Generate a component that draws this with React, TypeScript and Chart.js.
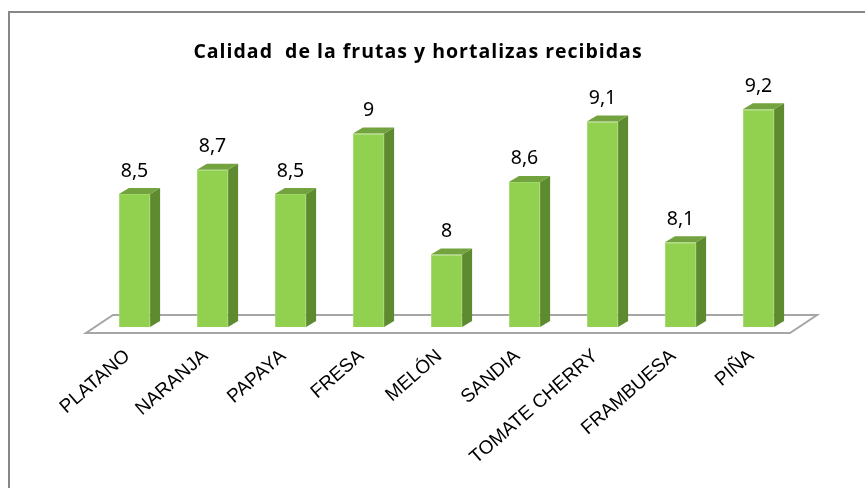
import React, { useEffect, useRef } from "react";
import { Chart, registerables } from "chart.js";

Chart.register(...registerables);

const TITLE = "Calidad  de la frutas y hortalizas recibidas";
const categories = [
  "PLATANO",
  "NARANJA",
  "PAPAYA",
  "FRESA",
  "MELÓN",
  "SANDIA",
  "TOMATE CHERRY",
  "FRAMBUESA",
  "PIÑA",
];
const values = [8.5, 8.7, 8.5, 9, 8, 8.6, 9.1, 8.1, 9.2];
const yMin = 7.4;
const yMax = 9.6;

const W = 865;
const H = 488;
const DX = 10;
const DY = 6;
const FRONT = "#92d050";
const SIDE = "#5f8b30";
const TOP = "#72a33e";

const fmt = (v: number) => String(v).replace(".", ",");

const framePlugin = {
  id: "frame",
  beforeDraw(chart: any) {
    const ctx = chart.ctx;
    ctx.save();
    ctx.fillStyle = "#ffffff";
    ctx.fillRect(0, 0, W, H);
    ctx.strokeStyle = "#878787";
    ctx.lineWidth = 2;
    ctx.beginPath();
    ctx.moveTo(9, H);
    ctx.lineTo(9, 12);
    ctx.lineTo(W, 12);
    ctx.stroke();
    ctx.restore();
  },
};

const titlePlugin = {
  id: "customTitle",
  afterDraw(chart: any) {
    const ctx = chart.ctx;
    ctx.save();
    ctx.fillStyle = "#000000";
    ctx.font = "bold 19.5px 'Open Sans'";
    try {
      (ctx as any).letterSpacing = "1px";
    } catch (e) {}
    ctx.textAlign = "center";
    ctx.textBaseline = "middle";
    ctx.fillText(TITLE, 418, 52);
    ctx.restore();
  },
};

const floorPlugin = {
  id: "floor",
  beforeDatasetsDraw(chart: any) {
    const { left, right, bottom } = chart.chartArea;
    const ctx = chart.ctx;
    ctx.save();
    ctx.beginPath();
    ctx.moveTo(left - 9.5, bottom + 6);
    ctx.lineTo(right - 7.5, bottom + 6);
    ctx.lineTo(right + 19.5, bottom - 12);
    ctx.lineTo(left + 17.5, bottom - 12);
    ctx.closePath();
    ctx.fillStyle = "#ffffff";
    ctx.fill();
    ctx.strokeStyle = "#a6a6a6";
    ctx.lineWidth = 2;
    ctx.stroke();
    ctx.restore();
  },
};

const bar3dPlugin = {
  id: "bar3d",
  afterDatasetsDraw(chart: any) {
    const ctx = chart.ctx;
    const meta = chart.getDatasetMeta(0);
    const bottom = chart.chartArea.bottom;
    ctx.save();
    meta.data.forEach((bar: any, i: number) => {
      const { x, y, base, width } = bar.getProps(["x", "y", "base", "width"], true);
      const b = Math.min(base, bottom);
      const l = x - width / 2;
      const r = x + width / 2;
      // side face
      ctx.beginPath();
      ctx.moveTo(r, y);
      ctx.lineTo(r + DX, y - DY);
      ctx.lineTo(r + DX, b - DY);
      ctx.lineTo(r, b);
      ctx.closePath();
      ctx.fillStyle = SIDE;
      ctx.fill();
      // top face
      ctx.beginPath();
      ctx.moveTo(l, y);
      ctx.lineTo(l + DX, y - DY);
      ctx.lineTo(r + DX, y - DY);
      ctx.lineTo(r, y);
      ctx.closePath();
      ctx.fillStyle = TOP;
      ctx.fill();
      // value label
      ctx.fillStyle = "#000000";
      ctx.font = "19.5px 'Noto Sans'";
      ctx.textAlign = "center";
      ctx.textBaseline = "middle";
      ctx.fillText(fmt(values[i]), x, y - 23);
    });
    ctx.restore();
  },
};

export default function App() {
  const ref = useRef<HTMLCanvasElement | null>(null);

  useEffect(() => {
    if (!ref.current) return;
    const chart = new Chart(ref.current, {
      type: "bar",
      data: {
        labels: categories,
        datasets: [
          {
            data: values,
            base: yMin,
            backgroundColor: FRONT,
            borderColor: "#a2da68",
            borderWidth: 1,
            categoryPercentage: 1,
            barPercentage: 0.4,
          },
        ],
      },
      options: {
        responsive: false,
        animation: false,
        layout: { padding: { left: 95.5, right: 67.5, top: 61, bottom: 0 } },
        plugins: {
          legend: { display: false },
          title: { display: false },
          tooltip: { enabled: false },
        },
        scales: {
          y: { display: false, min: yMin, max: yMax },
          x: {
            grid: { display: false },
            border: { display: false },
            ticks: {
              minRotation: 41,
              maxRotation: 41,
              padding: 10,
              labelOffset: -7,
              color: "#000000",
              font: { family: "'Liberation Sans'", size: 19 },
            },
            afterFit: (s: any) => {
              s.height = H - 327;
            },
          },
        },
      },
      plugins: [framePlugin, floorPlugin, bar3dPlugin, titlePlugin],
    });
    return () => chart.destroy();
  }, []);

  return (
    <div style={{ position: "fixed", left: 0, top: 0, width: W, height: H, background: "#fff" }}>
      <canvas ref={ref} width={W} height={H} style={{ display: "block", width: W, height: H }} />
    </div>
  );
}
